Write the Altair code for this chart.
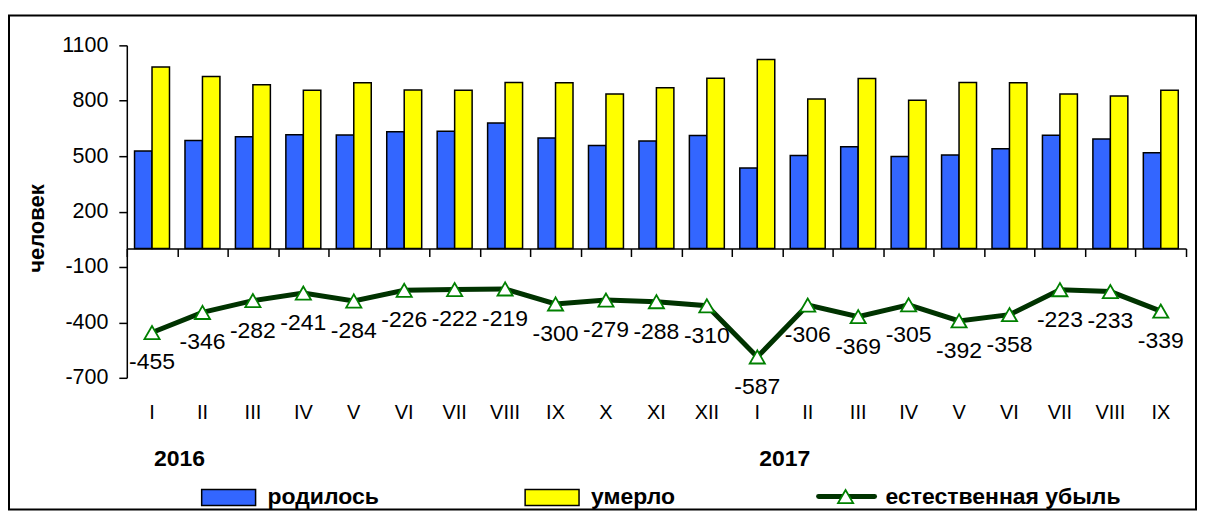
import altair as alt
import pandas as pd

FONT = "Liberation Sans"

months = ["I", "II", "III", "IV", "V", "VI", "VII", "VIII", "IX", "X", "XI", "XII",
          "I", "II", "III", "IV", "V", "VI", "VII", "VIII", "IX"]
years = [2016] * 12 + [2017] * 9
births = [528, 585, 605, 616, 614, 632, 635, 680, 598, 558, 582, 612,
          436, 503, 551, 498, 507, 540, 613, 593, 518]
deaths = [983, 931, 887, 857, 898, 858, 857, 899, 898, 837, 870, 922,
          1023, 809, 920, 803, 899, 898, 836, 826, 857]
natural = [-455, -346, -282, -241, -284, -226, -222, -219, -300, -279, -288, -310,
           -587, -306, -369, -305, -392, -358, -223, -233, -339]
series_names = ["родилось", "умерло"]
line_name = "естественная убыль"
y_ticks = [-700, -400, -100, 200, 500, 800, 1100]

ids = [f"{y}-{m}" for y, m in zip(years, months)]

bars_df = pd.DataFrame({
    "id": ids * 2,
    "value": births + deaths,
    "series": [series_names[0]] * len(ids) + [series_names[1]] * len(ids),
})
line_df = pd.DataFrame({"id": ids, "value": natural, "month": months,
                        "label": [str(v) for v in natural]})
year_df = pd.DataFrame({"id": ["2016-I", "2017-I"], "text": ["2016", "2017"]})
one = pd.DataFrame({"a": [0]})

W, H = 1061, 333
TRI = 230

x_enc = alt.X("id:N", sort=ids, title=None,
              scale=alt.Scale(paddingInner=0, paddingOuter=0),
              axis=alt.Axis(orient="bottom", offset=-129.5, labels=False, grid=False,
                            domainColor="black", domainWidth=1.5,
                            tickColor="black", tickSize=8, tickWidth=1.5,
                            tickBand="extent"))
y_enc = alt.Y("value:Q",
              scale=alt.Scale(domain=[-700, 1100], nice=False, zero=False),
              axis=alt.Axis(values=y_ticks, title="человек", grid=False,
                            labelExpr="datum.value + ''",
                            domainColor="black", domainWidth=1.5,
                            tickColor="black", tickSize=8, tickWidth=1.5,
                            labelFont=FONT, labelFontSize=21.5, labelColor="black",
                            labelPadding=11,
                            titleFont=FONT, titleFontSize=22, titleFontWeight="bold",
                            titleColor="black", titleAngle=270,
                            titleX=-90, titleY=183, titleBaseline="middle",
                            titleAlign="center"))

bars = alt.Chart(bars_df).mark_bar(stroke="black", strokeWidth=1.5).encode(
    x=x_enc, y=y_enc,
    xOffset=alt.XOffset("series:N", sort=series_names,
                        scale=alt.Scale(paddingInner=0, paddingOuter=0.443)),
    color=alt.Color("series:N", scale=alt.Scale(domain=series_names,
                                                range=["#3366FF", "#FFFF00"]),
                    legend=None),
)

line = alt.Chart(line_df).mark_line(color="#003300", strokeWidth=5).encode(
    x=alt.X("id:N", sort=ids), y=alt.Y("value:Q"))
pts = alt.Chart(line_df).mark_point(shape="triangle-up", filled=True, fill="white",
                                    stroke="#008000", strokeWidth=1.8, size=TRI,
                                    opacity=1).encode(
    x=alt.X("id:N", sort=ids), y=alt.Y("value:Q"))
labels = alt.Chart(line_df).mark_text(dy=30, font=FONT, fontSize=23, color="black",
                                      baseline="middle").encode(
    x=alt.X("id:N", sort=ids), y=alt.Y("value:Q"), text="label:N")

month_labels = alt.Chart(line_df).mark_text(font=FONT, fontSize=20, color="black",
                                            baseline="middle").encode(
    x=alt.X("id:N", sort=ids), y=alt.value(368), text="month:N")
year_labels = alt.Chart(year_df).mark_text(font=FONT, fontSize=23, fontWeight="bold",
                                           color="black", align="left", dx=2,
                                           baseline="middle").encode(
    x=alt.X("id:N", sort=ids), y=alt.value(414), text="text:N")

# legend
LY = 453
leg_b = alt.Chart(one).mark_rect(fill="#3366FF", stroke="black", strokeWidth=1.5).encode(
    x=alt.value(75), x2=alt.value(129), y=alt.value(LY - 8), y2=alt.value(LY + 8))
leg_d = alt.Chart(one).mark_rect(fill="#FFFF00", stroke="black", strokeWidth=1.5).encode(
    x=alt.value(399), x2=alt.value(453), y=alt.value(LY - 8), y2=alt.value(LY + 8))
leg_l = alt.Chart(one).mark_rule(color="#003300", strokeWidth=5, strokeCap="round").encode(
    x=alt.value(693), x2=alt.value(749), y=alt.value(LY - 1))
leg_p = alt.Chart(one).mark_point(shape="triangle-up", filled=True, fill="white",
                                  stroke="#008000", strokeWidth=1.8, size=TRI,
                                  opacity=1).encode(
    x=alt.value(720), y=alt.value(LY - 1))
leg_text = alt.Chart(pd.DataFrame({"t": [series_names[0], series_names[1], line_name],
                                   "px": [141, 465, 760]})).mark_text(
    font=FONT, fontSize=23, fontWeight="bold", color="black", align="left",
    baseline="middle").encode(
    x=alt.X("px:Q", scale=None), y=alt.value(LY - 1), text="t:N")

frame = alt.Chart(one).mark_rect(fillOpacity=0, stroke="black", strokeWidth=2).encode(
    x=alt.value(-118), x2=alt.value(1071), y=alt.value(-30), y2=alt.value(465))

chart = alt.layer(
    bars, line, pts, labels, month_labels, year_labels,
    leg_b, leg_d, leg_l, leg_p, leg_text, frame
).properties(
    width=W, height=H,
    padding={"left": 119, "top": 37, "right": 12, "bottom": 133},
    autosize=alt.AutoSizeParams(type="none"),
    background="white",
).configure_view(stroke=None)

chart.save("out.html", embed_options={"renderer": "svg", "actions": False})
